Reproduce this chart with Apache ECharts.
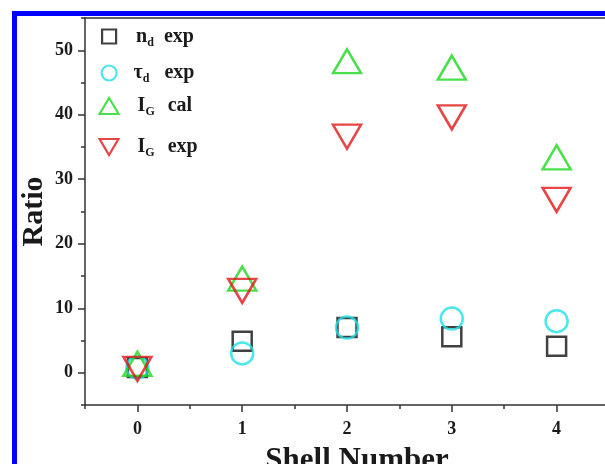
<!DOCTYPE html>
<html><head><meta charset="utf-8">
<script src="https://cdn.jsdelivr.net/npm/echarts@6/dist/echarts.min.js"></script>
<style>html,body{margin:0;padding:0;background:#fff}#c{width:605px;height:464px}</style>
</head><body><div id="c"></div>
<script>
const shells = [0, 1, 2, 3, 4];
const ndExp = [0.8, 4.9, 7.0, 5.6, 4.1];
const tauExp = [0.8, 3.0, 7.0, 8.4, 8.0];
const igCal = [1.4, 14.6, 48.3, 47.3, 33.4];
const igExp = [0.6, 12.7, 36.6, 39.6, 26.8];
const xTicks = [0, 1, 2, 3, 4];
const xMinorTicks = [-0.5, 0.5, 1.5, 2.5, 3.5, 4.5];
const yTicks = [0, 10, 20, 30, 40, 50];
const yMinorTicks = [-5, 5, 15, 25, 35, 45, 55];
const seriesNames = ['n_d exp', 'τ_d exp', 'I_G cal', 'I_G exp'];

const FONT = '"Liberation Serif", "Times New Roman", serif';
const AX = '#333';
const TXT = '#1a1a1a';
const DOWN = 'path://M0,0L20,0L10,17Z';

const chart = echarts.init(document.getElementById('c'));

function pts(vals) { return shells.map((s, i) => [s, vals[i]]); }

function makeLegend(name, centerY, w, h, pad, gap, base, sub, word) {
  return {
    data: [name], orient: 'vertical', left: 108 - w / 2, top: centerY - 12,
    padding: 0, itemWidth: w, itemHeight: h,
    itemStyle: { color: 'rgba(0,0,0,0)', borderWidth: 2.2 },
    formatter: () => '{a|' + base + '}{s|' + sub + '}{w|' + word + '}',
    textStyle: {
      rich: {
        a: { fontFamily: FONT, fontWeight: 'bold', fontSize: 20, color: TXT, padding: [0, 0, 0, pad] },
        s: { fontFamily: FONT, fontWeight: 'bold', fontSize: 12, color: TXT, padding: [12, 0, 0, 0] },
        w: { fontFamily: FONT, fontWeight: 'bold', fontSize: 20, color: TXT, padding: [0, 0, 0, gap] }
      }
    }
  };
}

const axLine = { show: true, onZero: false, lineStyle: { color: AX, width: 1.5 } };
const noLine = { show: false, onZero: false };
const labelStyle = { fontFamily: FONT, fontWeight: 'bold', fontSize: 18, color: TXT };

chart.setOption({
  animation: false,
  backgroundColor: '#fff',
  grid: { left: 85, top: 18, width: 524, height: 387, containLabel: false, outerBoundsMode: 'none' },
  graphic: [
    { type: 'rect', shape: { x: 12, y: 11, width: 5, height: 453 }, style: { fill: '#0000ff' }, z: 100 },
    { type: 'rect', shape: { x: 12, y: 11, width: 593, height: 5 }, style: { fill: '#0000ff' }, z: 100 }
  ],
  xAxis: [
    {
      type: 'value', min: -0.5, max: 4.5, position: 'bottom',
      axisLine: axLine,
      axisTick: { show: true, customValues: xTicks, length: 7, lineStyle: { color: AX, width: 1.5 } },
      axisLabel: Object.assign({ customValues: xTicks, margin: 15 }, labelStyle),
      splitLine: { show: false },
      name: 'Shell Number', nameLocation: 'middle', nameGap: 40, nameMoveOverlap: false,
      nameTextStyle: { fontFamily: FONT, fontWeight: 'bold', fontSize: 31, color: TXT, padding: [0, 0, 0, 20] }
    },
    {
      type: 'value', min: -0.5, max: 4.5, position: 'bottom',
      axisLine: noLine,
      axisTick: { show: true, customValues: xMinorTicks, length: 4, lineStyle: { color: AX, width: 1.5 } },
      axisLabel: { show: false }, splitLine: { show: false }
    },
    {
      type: 'value', min: -0.5, max: 4.5, position: 'top',
      axisLine: axLine, axisTick: { show: false }, axisLabel: { show: false }, splitLine: { show: false }
    }
  ],
  yAxis: [
    {
      type: 'value', min: -5, max: 55, position: 'left',
      axisLine: axLine,
      axisTick: { show: true, customValues: yTicks, length: 7, lineStyle: { color: AX, width: 1.5 } },
      axisLabel: Object.assign({ customValues: yTicks, margin: 12 }, labelStyle),
      splitLine: { show: false },
      name: 'Ratio', nameLocation: 'middle', nameGap: 36, nameMoveOverlap: false,
      nameTextStyle: { fontFamily: FONT, fontWeight: 'bold', fontSize: 30, color: TXT }
    },
    {
      type: 'value', min: -5, max: 55, position: 'left',
      axisLine: noLine,
      axisTick: { show: true, customValues: yMinorTicks, length: 4, lineStyle: { color: AX, width: 1.5 } },
      axisLabel: { show: false }, splitLine: { show: false }
    }
  ],
  legend: [
    makeLegend(seriesNames[0], 38.5, 14, 14, 15, 10, 'n', 'd', 'exp'),
    makeLegend(seriesNames[1], 75, 15, 15, 12, 15, 'τ', 'd', 'exp'),
    makeLegend(seriesNames[2], 108, 19, 16, 14, 13, 'I', 'G', 'cal'),
    makeLegend(seriesNames[3], 149, 19, 16, 14, 13, 'I', 'G', 'exp')
  ],
  series: [
    {
      name: seriesNames[0], type: 'scatter', data: pts(ndExp), symbol: 'rect', symbolSize: 19,
      itemStyle: { color: 'rgba(0,0,0,0)', borderColor: '#111111', borderWidth: 2.5 }, z: 2
    },
    {
      name: seriesNames[1], type: 'scatter', data: pts(tauExp), symbol: 'circle', symbolSize: 22,
      itemStyle: { color: 'rgba(0,0,0,0)', borderColor: '#22e0e8', borderWidth: 2.5 }, z: 3
    },
    {
      name: seriesNames[2], type: 'scatter', data: pts(igCal), symbol: 'triangle', symbolSize: [28, 24],
      itemStyle: { color: 'rgba(0,0,0,0)', borderColor: '#1ed81e', borderWidth: 2.5 }, z: 4
    },
    {
      name: seriesNames[3], type: 'scatter', data: pts(igExp), symbol: DOWN, symbolSize: [28, 24],
      itemStyle: { color: 'rgba(0,0,0,0)', borderColor: '#e01818', borderWidth: 2.5 }, z: 5
    }
  ]
});
</script>
</body></html>
